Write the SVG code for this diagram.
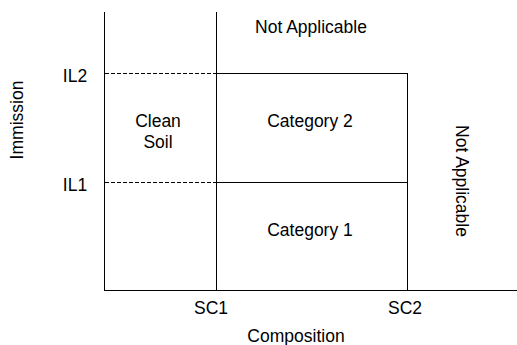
<svg xmlns="http://www.w3.org/2000/svg" width="517" height="345" viewBox="0 0 517 345">
<style>
text{font-family:"Liberation Sans",Arial,sans-serif;font-size:17.5px;fill:#000}
.s{stroke:#000;stroke-width:1;fill:none}
.d{stroke:#000;stroke-width:1;stroke-dasharray:4,2;fill:none}
</style>
<rect width="517" height="345" fill="#fff"/>
<g id="connectors">
<line class="s" x1="104.5" y1="12" x2="104.5" y2="290.5"/>
<line class="s" x1="104" y1="290.5" x2="517" y2="290.5"/>
<line class="s" x1="216.5" y1="12" x2="216.5" y2="290.5"/>
<line class="s" x1="216" y1="73.5" x2="407.5" y2="73.5"/>
<line class="s" x1="407.5" y1="73" x2="407.5" y2="290.5"/>
<line class="s" x1="216" y1="182.5" x2="407.5" y2="182.5"/>
<line class="d" x1="105" y1="73.5" x2="216" y2="73.5"/>
<line class="d" x1="105" y1="182.5" x2="216" y2="182.5"/>
</g>
<g id="labels">
<text x="75" y="82" text-anchor="middle">IL2</text>
<text x="75" y="191" text-anchor="middle">IL1</text>
<text x="211" y="314" text-anchor="middle">SC1</text>
<text x="405" y="314" text-anchor="middle">SC2</text>
<text x="296" y="342" text-anchor="middle">Composition</text>
<text transform="translate(23,120) rotate(-90)" text-anchor="middle">Immission</text>
</g>
<g id="clean-soil"><text x="158" y="127" text-anchor="middle">Clean</text><text x="158" y="148" text-anchor="middle">Soil</text></g>
<g id="category-2"><text x="310" y="127" text-anchor="middle">Category 2</text></g>
<g id="category-1"><text x="310" y="236" text-anchor="middle">Category 1</text></g>
<g id="not-applicable-top"><text x="311" y="33" text-anchor="middle">Not Applicable</text></g>
<g id="not-applicable-right"><text transform="translate(456,181) rotate(90)" text-anchor="middle">Not Applicable</text></g>
</svg>
